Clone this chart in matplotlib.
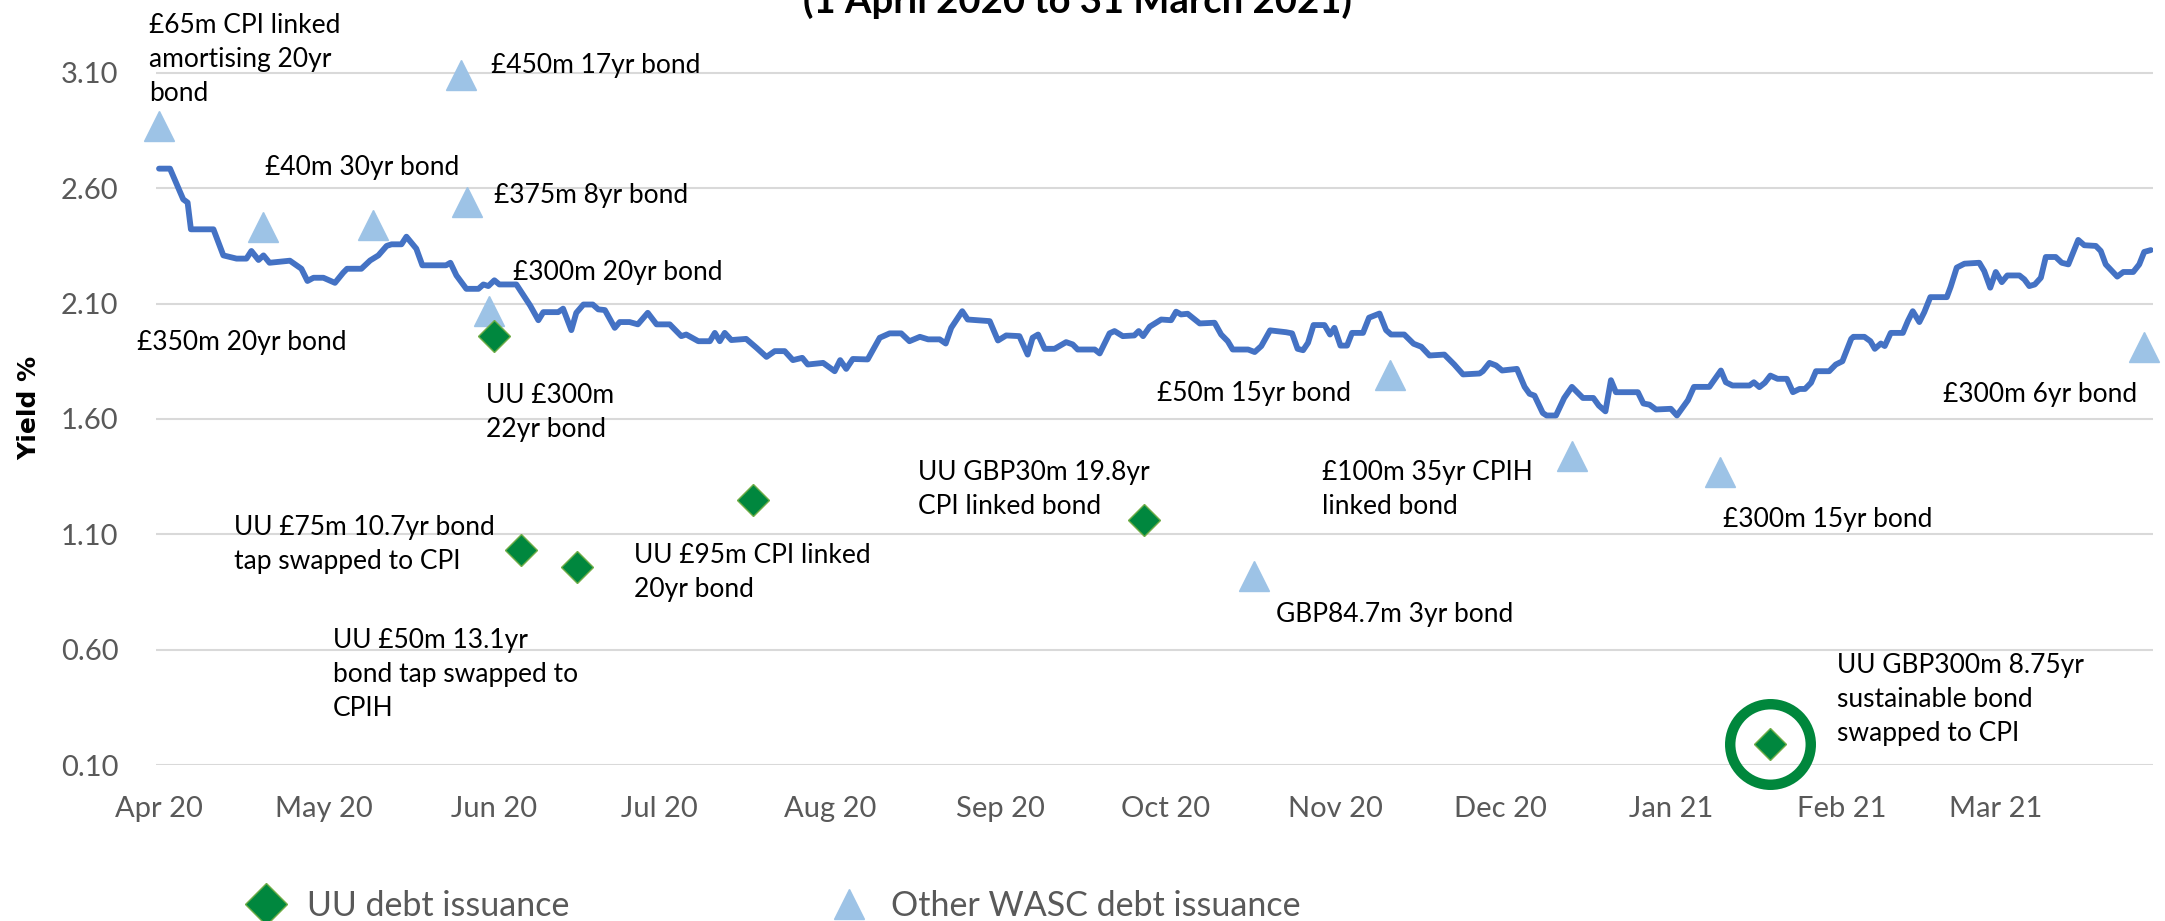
import pandas as pd
import matplotlib.pyplot as plt
import matplotlib.dates as mdates
from matplotlib.lines import Line2D

plt.rcParams['font.family'] = ['Lato', 'DejaVu Sans']

start = pd.Timestamp('2020-04-01')

# Yield line: days after 1 Apr 2020 and yield %
curve_days = [0.0, 2.0, 4.4, 5.2, 5.8, 9.9, 11.7, 14.1, 15.9, 16.8, 18.1, 19.0, 20.1, 23.8,
              25.9, 27.0, 28.1, 29.9, 32.0, 33.5, 34.2, 36.8, 38.4, 39.9, 41.4, 42.3, 44.1,
              45.0, 46.8, 47.9, 52.2, 53.0, 54.1, 55.9, 58.1, 59.0, 59.9, 61.0, 61.9, 65.0,
              67.5, 69.0, 69.9, 72.6, 73.5, 75.0, 75.9, 77.2, 78.9, 79.9, 81.1, 82.9, 83.8,
              85.6, 87.1, 88.9, 90.5, 92.9, 95.0, 95.9, 98.1, 100.2, 101.1, 102.0, 102.9,
              104.1, 106.8, 108.7, 110.5, 112.0, 113.8, 115.3, 117.0, 118.0, 120.8, 122.9,
              123.9, 125.0, 126.2, 128.9, 131.1, 132.9, 135.0, 136.5, 138.4, 139.9, 142.0,
              143.1, 144.1, 146.1, 147.1, 151.1, 152.6, 154.1, 156.5, 158.0, 158.9, 159.9,
              161.1, 162.9, 165.0, 166.2, 167.1, 170.2, 171.1, 172.9, 173.8, 175.3, 177.4,
              178.2, 179.0, 180.2, 182.3, 184.1, 185.0, 185.9, 187.1, 189.3, 192.0, 193.2,
              194.4, 195.3, 198.1, 199.3, 200.5, 202.1, 205.0, 206.1, 207.1, 208.1, 209.0,
              210.0, 212.0, 213.0, 213.8, 214.9, 216.1, 217.0, 219.0, 220.1, 222.0, 223.2,
              224.1, 226.5, 228.2, 229.6, 231.1, 233.8, 235.6, 237.2, 240.2, 240.8, 242.0,
              243.2, 244.3, 247.0, 248.4, 249.3, 250.2, 251.7, 252.4, 254.1, 255.6, 257.0,
              259.0, 260.9, 261.9, 263.1, 264.1, 265.0, 269.0, 270.0, 271.1, 272.3, 275.0,
              276.1, 278.1, 279.2, 282.0, 284.1, 285.0, 286.2, 289.3, 290.1, 291.1, 292.1,
              293.1, 294.4, 296.1, 297.2, 298.4, 299.4, 300.5, 301.4, 303.8, 305.0, 306.2,
              307.8, 308.2, 310.2, 311.3, 312.1, 313.2, 313.9, 315.0, 317.2, 318.1, 319.0,
              320.2, 321.1, 322.2, 325.2, 325.9, 327.0, 328.4, 331.1, 332.0, 333.1, 334.1,
              335.2, 336.2, 338.4, 339.3, 340.2, 341.2, 342.3, 343.2, 345.0, 346.1, 347.3,
              349.1, 350.2, 352.3, 353.2, 354.1, 356.2, 357.3, 359.1, 360.2, 361.1, 362.3]
curve_yield = [2.685, 2.685, 2.552, 2.538, 2.422, 2.422, 2.309, 2.295, 2.295, 2.328, 2.289,
               2.309, 2.277, 2.286, 2.251, 2.198, 2.212, 2.212, 2.190, 2.234, 2.251, 2.251,
               2.287, 2.309, 2.350, 2.357, 2.357, 2.390, 2.338, 2.266, 2.266, 2.277, 2.222,
               2.164, 2.164, 2.183, 2.176, 2.201, 2.183, 2.183, 2.092, 2.028, 2.063, 2.063,
               2.078, 1.985, 2.060, 2.096, 2.096, 2.075, 2.072, 1.995, 2.020, 2.020, 2.010,
               2.060, 2.010, 2.010, 1.959, 1.966, 1.937, 1.937, 1.973, 1.937, 1.973, 1.942,
               1.947, 1.908, 1.869, 1.894, 1.894, 1.855, 1.865, 1.836, 1.843, 1.807, 1.855,
               1.817, 1.860, 1.858, 1.952, 1.971, 1.971, 1.937, 1.956, 1.945, 1.945, 1.927,
               1.995, 2.067, 2.031, 2.024, 1.940, 1.962, 1.959, 1.879, 1.952, 1.966, 1.904,
               1.904, 1.933, 1.923, 1.901, 1.901, 1.884, 1.971, 1.981, 1.959, 1.962, 1.981,
               1.959, 2.000, 2.031, 2.028, 2.065, 2.053, 2.056, 2.014, 2.017, 1.966, 1.937,
               1.901, 1.901, 1.890, 1.916, 1.984, 1.976, 1.971, 1.904, 1.898, 1.930, 2.007,
               2.007, 1.966, 1.995, 1.918, 1.918, 1.973, 1.973, 2.039, 2.057, 1.985, 1.966,
               1.966, 1.926, 1.913, 1.875, 1.879, 1.836, 1.793, 1.797, 1.807, 1.843, 1.832,
               1.810, 1.817, 1.739, 1.709, 1.701, 1.626, 1.615, 1.615, 1.691, 1.739, 1.691,
               1.691, 1.658, 1.633, 1.768, 1.716, 1.716, 1.667, 1.662, 1.641, 1.644, 1.615,
               1.681, 1.739, 1.739, 1.810, 1.759, 1.745, 1.745, 1.759, 1.738, 1.757, 1.788,
               1.774, 1.774, 1.716, 1.730, 1.730, 1.757, 1.807, 1.807, 1.836, 1.850, 1.947,
               1.956, 1.956, 1.937, 1.904, 1.927, 1.916, 1.973, 1.973, 2.024, 2.067, 2.020,
               2.063, 2.128, 2.128, 2.173, 2.256, 2.273, 2.277, 2.241, 2.169, 2.237, 2.193,
               2.222, 2.222, 2.205, 2.176, 2.183, 2.212, 2.302, 2.302, 2.277, 2.270, 2.376,
               2.353, 2.350, 2.328, 2.270, 2.217, 2.237, 2.237, 2.270, 2.324, 2.332]

# UU debt issuance (green diamonds)
uu_days = [60.9, 65.8, 76.0, 108.0, 179.1, 293.1]
uu_yield = [1.96, 1.03, 0.96, 1.25, 1.16, 0.19]
uu_highlight = 5  # the circled sustainable bond

# Other WASC debt issuance (blue triangles)
wasc_days = [0.0, 18.9, 38.9, 54.9, 56.0, 60.0, 199.1, 224.0, 257.1, 284.0, 361.1]
wasc_yield = [2.87, 2.43, 2.44, 3.09, 2.54, 2.07, 0.92, 1.79, 1.44, 1.37, 1.91]

# annotation text with top-left placement (days, yield)
labels = [
    ("£65m CPI linked\namortising 20yr\nbond", -1.8, 3.36),
    ("£450m 17yr bond", 60.4, 3.187),
    ("£40m 30yr bond", 19.3, 2.745),
    ("£375m 8yr bond", 60.9, 2.623),
    ("£300m 20yr bond", 64.4, 2.289),
    ("£350m 20yr bond", -4.0, 1.986),
    ("UU £300m\n22yr bond", 59.5, 1.756),
    ("UU £75m 10.7yr bond\ntap swapped to CPI", 13.6, 1.184),
    ("UU £50m 13.1yr\nbond tap swapped to\nCPIH", 31.6, 0.694),
    ("UU £95m CPI linked\n20yr bond", 86.4, 1.063),
    ("UU GBP30m 19.8yr\nCPI linked bond", 138.0, 1.423),
    ("£100m 35yr CPIH\nlinked bond", 211.6, 1.423),
    ("GBP84.7m 3yr bond", 203.1, 0.807),
    ("£50m 15yr bond", 181.5, 1.765),
    ("£300m 15yr bond", 284.4, 1.219),
    ("UU GBP300m 8.75yr\nsustainable bond\nswapped to CPI", 305.3, 0.586),
    ("£300m 6yr bond", 324.5, 1.761),
]

y_ticks = [0.10, 0.60, 1.10, 1.60, 2.10, 2.60, 3.10]


def to_dates(days):
    return start + pd.to_timedelta(days, unit='D')


fig = plt.figure(figsize=(21.65, 9.21), dpi=100)
ax = fig.add_axes([156 / 2165, 1 - 765 / 921, (2153 - 156) / 2165, 765 / 921])

ax.plot(to_dates(curve_days), curve_yield, color='#4472C4', lw=4.2,
        solid_joinstyle='round', solid_capstyle='round', zorder=3)
ax.plot(to_dates(wasc_days), wasc_yield, ls='none', marker='^', ms=22,
        color='#9DC3E6', mec='#9DC3E6', clip_on=False, zorder=4)
ax.plot(to_dates(uu_days), uu_yield, ls='none', marker='D', ms=16,
        mfc='#00873E', mec='#70AD47', mew=1, clip_on=False, zorder=5)
ax.plot(to_dates([uu_days[uu_highlight]]), [uu_yield[uu_highlight]], ls='none',
        marker='o', ms=58, mfc='none', mec='#00873C', mew=7.5, clip_on=False, zorder=5)

for text, d, yv in labels:
    ax.text(to_dates([d])[0], yv, text, ha='left', va='top', fontsize=19,
            color='black', linespacing=1.45, zorder=6)

ax.set_ylim(0.10, 0.10 + 765 / 230.7)
ax.set_xlim(start - pd.Timedelta(days=0.55), start + pd.Timedelta(days=362.7))
ax.set_yticks(y_ticks)
ax.set_yticklabels(['%.2f' % v for v in y_ticks])
ax.xaxis.set_major_locator(mdates.MonthLocator())
ax.xaxis.set_major_formatter(mdates.DateFormatter('%b %y'))
ax.tick_params(axis='x', length=0, pad=22, labelsize=21, labelcolor='#595959')
ax.tick_params(axis='y', length=0, pad=27, labelsize=21, labelcolor='#595959')
ax.grid(axis='y', color='#D9D9D9', lw=1.5)
ax.set_axisbelow(True)
for s in ax.spines.values():
    s.set_visible(False)

fig.text(29 / 2165, 1 - 408 / 921, 'Yield %', rotation=90, ha='center', va='center',
         fontsize=18, fontweight='bold', family='DejaVu Sans')
fig.text(1077 / 2165, 1 - 13 / 921, '(1 April 2020 to 31 March 2021)', ha='center',
         va='baseline', fontsize=27.5, fontweight='bold')

handles = [
    Line2D([], [], ls='none', marker='D', ms=21, mfc='#00873E', mec='#70AD47', mew=1),
    Line2D([], [], ls='none', marker='^', ms=21, color='#9DC3E6'),
]
fig.legend(handles, ['UU debt issuance', 'Other WASC debt issuance'], ncol=2,
           loc='center left', bbox_to_anchor=(252 / 2165, 1 - 906 / 921), frameon=False,
           fontsize=24.5, labelcolor='#595959', borderpad=0, borderaxespad=0,
           handlelength=0.8, handletextpad=0.83, columnspacing=7.8)

fig.savefig('out.png', dpi=100)
